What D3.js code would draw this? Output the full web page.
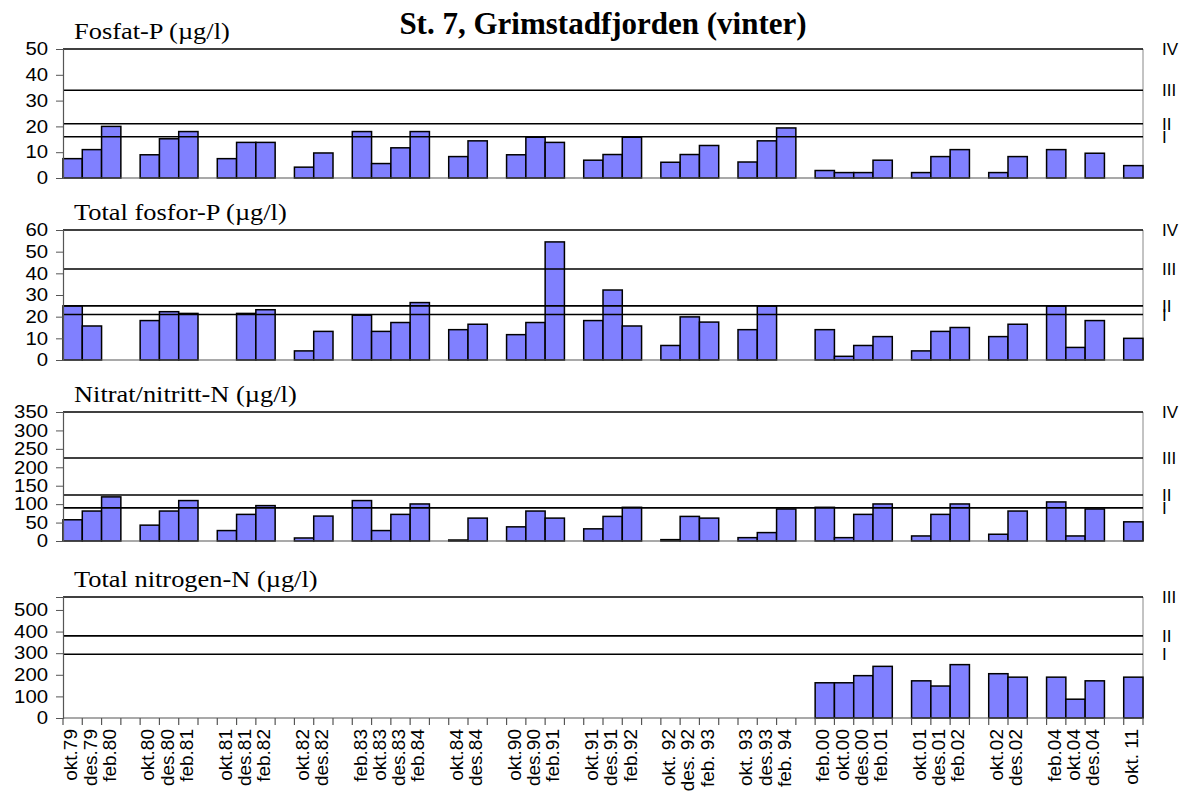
<!DOCTYPE html>
<html><head><meta charset="utf-8">
<script src="https://cdn.jsdelivr.net/npm/d3@7"></script>
<style>body{margin:0;background:#fff} svg{display:block}</style>
</head><body><svg id="c" width="1184" height="794"></svg>
<script>
// ---- data ----
const categories = ["okt.79","des.79","feb.80","","okt.80","des.80","feb.81","","okt.81","des.81","feb.82","","okt.82","des.82","",
  "feb.83","okt.83","des.83","feb.84","","okt.84","des.84","","okt.90","des.90","feb.91","","okt.91","des.91","feb.92","",
  "okt. 92","des. 92","feb. 93","","okt. 93","des.93","feb. 94","","feb.00","okt.00","des.00","feb.01","",
  "okt.01","des.01","feb.02","","okt.02","des.02","","feb.04","okt.04","des.04","","okt. 11"];

const fosfatP = [7.5,11,20,null, 9,15.2,18,null, 7.5,13.8,13.8,null, 4.2,9.7,null, 18,5.6,11.7,18,null, 8.3,14.4,null,
  9,15.8,13.8,null, 6.9,9.1,15.8,null, 6.1,9.1,12.6,null, 6.2,14.4,19.4,null, 2.9,2.1,2.1,6.9,null, 2.1,8.3,11,null,
  2.1,8.3,null, 11,null,9.6,null, 4.8];

const totalP = [25,15.7,null,null, 18.2,22.3,21.5,null, null,21.5,23.2,null, 4.2,13.2,null, 20.7,13.2,17.3,26.5,null, 14,16.5,null,
  11.7,17.3,54.5,null, 18.2,32.3,15.7,null, 6.7,19.9,17.5,null, 14,24.9,null,null, 14,1.7,6.7,10.8,null, 4.2,13.2,15,null,
  10.8,16.5,null, 24.9,5.8,18.2,null, 10];

const nitrat = [57.6,81.3,119.7,null, 43,81.3,109.7,null, 28.3,72.2,96,null, 8.2,67.6,null, 109.7,28.3,72.2,100.5,null, 2.7,62.1,null,
  38.4,81.3,62.1,null, 33,66.7,91.4,null, 3.7,66.7,62.1,null, 9.1,22.8,86.8,null, 91.4,9.1,72.2,100.5,null, 13.7,72.2,100.5,null,
  18.3,81.3,null, 106,13.7,86.8,null, 52];

const totalN = [null,null,null,null, null,null,null,null, null,null,null,null, null,null,null, null,null,null,null,null, null,null,null,
  null,null,null,null, null,null,null,null, null,null,null,null, null,null,null,null, 163,163,196,239,null, 172,148,247,null,
  205,189,null, 189,87,172,null, 189];

const fosfatLimits = [16,21,34,50], fosfatTicks = [0,10,20,30,40,50];
const totalPLimits = [21,25,42,60], totalPTicks = [0,10,20,30,40,50,60];
const nitratLimits = [90,125,225,350], nitratTicks = [0,50,100,150,200,250,300,350];
const totalNLimits = [295,380,560], totalNTicks = [0,100,200,300,400,500];
const classLabels = ["I","II","III","IV"];

const titleText = "St. 7, Grimstadfjorden (vinter)";
const panelTitles = ["Fosfat-P (µg/l)","Total fosfor-P (µg/l)","Nitrat/nitritt-N (µg/l)","Total nitrogen-N (µg/l)"];

// ---- layout ----
const svg = d3.select("#c");
const X0 = 63, X1 = 1143;
const x = d3.scaleBand().domain(d3.range(categories.length)).range([X0, X1]).padding(0);
const SANS = "'Liberation Sans',Arial,sans-serif", SERIF = "'Liberation Serif','Times New Roman',serif";

function stretch(sel, f) {
  sel.each(function () {
    const L = this.getComputedTextLength();
    d3.select(this).attr("textLength", L * f).attr("lengthAdjust", "spacingAndGlyphs");
  });
}

const panels = [
  {title: panelTitles[0], values: fosfatP, limits: fosfatLimits, ticks: fosfatTicks, max: 50, top: 49, bottom: 178},
  {title: panelTitles[1], values: totalP, limits: totalPLimits, ticks: totalPTicks, max: 60, top: 230, bottom: 360},
  {title: panelTitles[2], values: nitrat, limits: nitratLimits, ticks: nitratTicks, max: 350, top: 412, bottom: 541},
  {title: panelTitles[3], values: totalN, limits: totalNLimits, ticks: totalNTicks, max: 560, top: 597, bottom: 718}
];

svg.append("text").attr("x", 603).attr("y", 34).attr("text-anchor","middle")
  .attr("font-family", SERIF).attr("font-weight","bold")
  .attr("font-size", 31).text(titleText);

panels.forEach((p, pi) => {
  const y = d3.scaleLinear().domain([0, p.max]).range([p.bottom, p.top]);
  const g = svg.append("g");

  const t = g.append("text").attr("x", 74).attr("y", p.top - 10)
    .attr("font-family", SERIF).attr("font-size", 24)
    .text(p.title);
  stretch(t, 1.1);

  // plot frame: right side thin grey
  g.append("line").attr("x1", X1).attr("x2", X1).attr("y1", p.top).attr("y2", p.bottom)
    .attr("stroke", "#888").attr("stroke-width", 1);

  // bars
  g.selectAll("rect.bar").data(p.values.map((v,i)=>({v,i})).filter(d => d.v != null))
    .enter().append("rect").attr("class","bar")
    .attr("x", d => x(d.i)).attr("width", x.bandwidth())
    .attr("y", d => y(d.v)).attr("height", d => y(0) - y(d.v))
    .attr("fill", "#8080ff").attr("stroke", "#000").attr("stroke-width", 1.5);

  // class limit lines
  g.selectAll("line.lim").data(p.limits).enter().append("line").attr("class","lim")
    .attr("x1", X0).attr("x2", X1).attr("y1", d => y(d)).attr("y2", d => y(d))
    .attr("stroke", "#000").attr("stroke-width", 1.6);

  // class labels
  g.selectAll("text.cls").data(p.limits).enter().append("text").attr("class","cls")
    .attr("x", 1162).attr("y", d => y(d)).attr("dy","0.36em")
    .attr("font-family", SANS).attr("font-size", 17)
    .text((d,i) => classLabels[i]);

  // baseline
  g.append("line").attr("x1", X0).attr("x2", X1).attr("y1", y(0)).attr("y2", y(0))
    .attr("stroke", "#555").attr("stroke-width", 1.2);

  // y axis
  const ax = g.append("g").attr("transform", `translate(${X0},0)`)
    .call(d3.axisLeft(y).tickValues(p.ticks).tickSize(7).tickPadding(8).tickFormat(d3.format("d")));
  ax.select(".domain").attr("stroke", "#555").attr("stroke-width", 1.2);
  ax.selectAll(".tick line").attr("stroke", "#555");
  const tl = ax.selectAll("text").attr("font-family", SANS).attr("font-size", 18).attr("fill","#000");
  stretch(tl, 1.13);

  if (pi === 3) {
    // category boundary ticks
    const bounds = d3.range(categories.length).map(i => x(i)).concat([X1]);
    g.selectAll("line.xt").data(bounds).enter().append("line")
      .attr("x1", d => d).attr("x2", d => d).attr("y1", y(0)).attr("y2", y(0) + 7)
      .attr("stroke", "#555").attr("stroke-width", 1.2);
    g.selectAll("text.xl").data(categories.map((c,i)=>({c,i})).filter(d => d.c !== ""))
      .enter().append("text").attr("class","xl")
      .attr("transform", d => `translate(${x(d.i) + x.bandwidth()/2 - 2},${y(0) + 11}) rotate(-90)`)
      .attr("text-anchor","end").attr("dy","0.35em")
      .attr("font-family", SANS).attr("font-size", 19)
      .text(d => d.c);
  }
});
</script>
</body></html>
